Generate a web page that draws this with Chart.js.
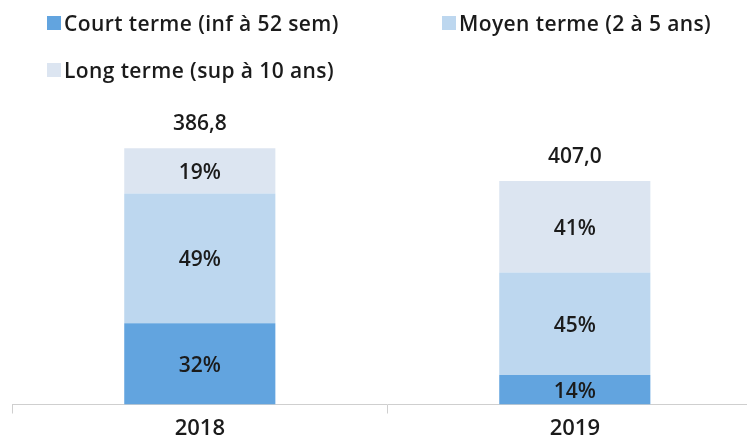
<!DOCTYPE html>
<html>
<head>
<meta charset="utf-8">
<script src="https://cdn.jsdelivr.net/npm/chart.js@4/dist/chart.umd.min.js"></script>
<style>
  html, body { margin: 0; padding: 0; background: #fff; overflow: hidden; }
  #wrap { position: relative; width: 747px; height: 443px; overflow: hidden; }
  #chart { position: absolute; left: 0; top: 0; }
  .legend-item {
    position: absolute; left: 47px; height: 30px;
    display: flex; align-items: center;
    font-family: "Open Sans", sans-serif; font-size: 21px; font-weight: 600;
    letter-spacing: 0.4px; color: #1b1b1b; white-space: nowrap; line-height: 1;
  }
  .legend-item .box { width: 14px; height: 14px; margin-right: 3px; flex: none; }
</style>
</head>
<body>
<div id="wrap">
  <canvas id="chart" width="780" height="443"></canvas>
  <div id="legend"></div>
</div>
<script>
// --- data ---
const years = ['2018', '2019'];
const seriesNames = ['Court terme (inf à 52 sem)', 'Moyen terme (2 à 5 ans)', 'Long terme (sup à 10 ans)'];
// segment heights (bar heights as drawn, in Md)
const courtTerme = [122.7, 44.7];
const moyenTerme = [195.7, 154.5];
const longTerme = [68.4, 138.2];
// labels printed on the bars
const pctCourt = ['32%', '14%'];
const pctMoyen = ['49%', '45%'];
const pctLong = ['19%', '41%'];
const totals = ['386,8', '407,0'];

const colors = ['#62a4df', '#bdd7ef', '#dce5f1'];

// --- html legend ---
const legendEl = document.getElementById('legend');
const legendPos = [[47, 8], [442, 8], [47, 55]];
seriesNames.forEach((name, i) => {
  const item = document.createElement('div');
  item.className = 'legend-item';
  item.style.left = legendPos[i][0] + 'px';
  item.style.top = legendPos[i][1] + 'px';
  item.innerHTML = '<span class="box" style="background:' + colors[i] + '"></span><span>' + name + '</span>';
  legendEl.appendChild(item);
});

// --- labels inside the segments and totals on top ---
const barLabels = {
  id: 'barLabels',
  afterDatasetsDraw(chart) {
    const ctx = chart.ctx;
    ctx.save();
    ctx.font = '600 21px "Open Sans", sans-serif';
    ctx.fillStyle = '#1b1b1b';
    ctx.textAlign = 'center';
    ctx.textBaseline = 'middle';
    chart.data.datasets.forEach((ds, i) => {
      chart.getDatasetMeta(i).data.forEach((bar, j) => {
        ctx.fillText(ds.pctLabels[j], bar.x, (bar.y + bar.base) / 2 + 2);
      });
    });
    const topBars = chart.getDatasetMeta(chart.data.datasets.length - 1).data;
    topBars.forEach((bar, j) => {
      ctx.fillText(totals[j], bar.x, bar.y - 24);
    });
    ctx.restore();
  }
};

const ctx = document.getElementById('chart');
new Chart(ctx, {
  type: 'bar',
  data: {
    labels: years,
    datasets: [
      { label: seriesNames[0], data: courtTerme, pctLabels: pctCourt, backgroundColor: colors[0] },
      { label: seriesNames[1], data: moyenTerme, pctLabels: pctMoyen, backgroundColor: colors[1] },
      { label: seriesNames[2], data: longTerme, pctLabels: pctLong, backgroundColor: colors[2] }
    ]
  },
  options: {
    responsive: false,
    animation: false,
    devicePixelRatio: 1,
    layout: { padding: { left: 12.3, right: 17.7, top: 73.2, bottom: 0 } },
    datasets: { bar: { categoryPercentage: 1, barPercentage: 0.403, borderWidth: 0 } },
    plugins: { legend: { display: false }, tooltip: { enabled: false } },
    scales: {
      x: {
        stacked: true,
        afterFit: (scale) => { scale.height = 38.5; },
        grid: { offset: true, drawOnChartArea: false, color: '#cfcfcf', tickLength: 9 },
        border: { color: '#cfcfcf', width: 1 },
        ticks: {
          color: '#1b1b1b', padding: 2,
          font: { family: '"Open Sans", sans-serif', size: 22, weight: '600' }
        }
      },
      y: { stacked: true, display: false, min: 0, max: 500 }
    }
  },
  plugins: [barLabels]
});
</script>
</body>
</html>
